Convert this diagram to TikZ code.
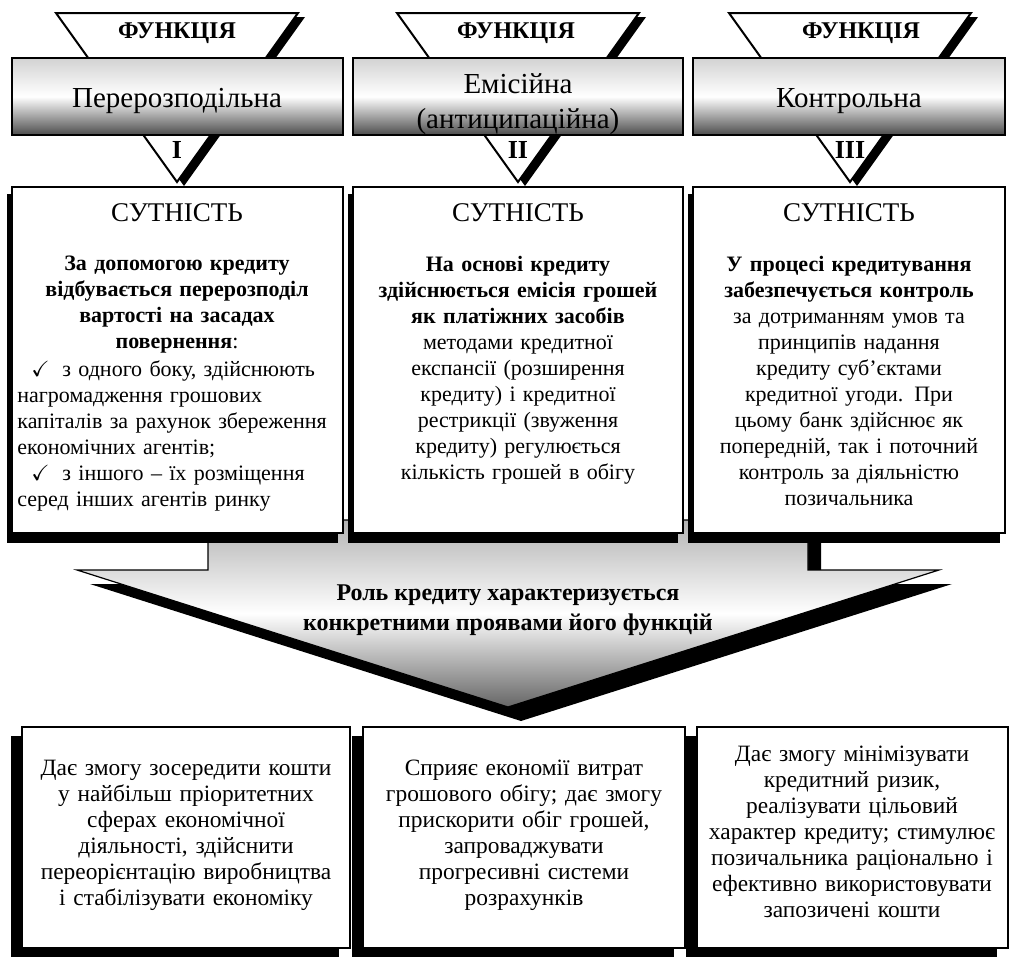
\documentclass[tikz,border=0pt]{standalone}
\usepackage{amssymb}
\usepackage{fontspec}
\setmainfont{Liberation Serif}
\tikzset{
  func_tri/.style = {fill=white, draw=black, line width=1pt},% трикутник ФУНКЦІЯ
  tri_shadow/.style = {fill=black},% тінь трикутника
  func_box/.style = {draw=black, line width=0.6pt, top color=gray!35,
    bottom color=black!70, middle color=white},% назва функції
  func_label/.style = {inner sep=0pt, font=\bfseries\fontsize{12}{14}\selectfont},
  num_label/.style = {inner sep=0pt, font=\bfseries\fontsize{13}{15}\selectfont},
  name_label/.style = {align=center, inner sep=0pt,
    font=\fontsize{14.5}{17.5}\selectfont},% Перерозподільна ...
  ess_box/.style = {fill=white, draw=black, line width=0.8pt},% сутність
  box_shadow/.style = {fill=black},% тінь прямокутника
  ess_head/.style = {inner sep=0pt, font=\fontsize{13.5}{16}\selectfont},
  ess_text/.style = {anchor=north, align=center, inner sep=0pt, text width=162pt,
    font=\fontsize{11}{13}\selectfont},
  ess_list/.style = {anchor=north west, align=left, inner sep=0pt, text width=162pt,
    font=\fontsize{11}{13}\selectfont},
  role_arrow/.style = {draw=black, line width=0.6pt, top color=gray!60,
    bottom color=black!60, middle color=white},% велика стрілка
  role_label/.style = {align=center, inner sep=0pt, font=\bfseries\fontsize{12}{15}\selectfont},
  out_box/.style = {fill=white, draw=black, line width=1pt},% прояви функцій
  out_text/.style = {align=center, inner sep=0pt, text width=165pt,
    font=\fontsize{11.7}{13}\selectfont}
}
\newcommand{\tick}{\hspace*{7pt}\makebox[15.5pt][l]{\smash{$\checkmark$}}}
\begin{document}
\begin{tikzpicture}[x=0.5pt, y=-0.5pt]
  \useasboundingbox[fill=white] (0,0) rectangle (1014,959);
  % трикутники
  \fill[tri_shadow] (63,17) -- (305,17) -- (184,186) -- cycle;
  \draw[func_tri] (56,13) -- (298,13) -- (177,182) -- cycle;
  \fill[tri_shadow] (404,17) -- (646,17) -- (525,186) -- cycle;
  \draw[func_tri] (397,13) -- (639,13) -- (518,182) -- cycle;
  \fill[tri_shadow] (736,17) -- (978,17) -- (857,186) -- cycle;
  \draw[func_tri] (729,13) -- (971,13) -- (850,182) -- cycle;
  \node[func_label] (fun_a) at (177,33) {ФУНКЦІЯ};
  \node[func_label] (fun_b) at (516,33) {ФУНКЦІЯ};
  \node[func_label] (fun_c) at (861,33) {ФУНКЦІЯ};
  \node[num_label] (num_a) at (177,150) {I};
  \node[num_label] (num_b) at (518,150) {II};
  \node[num_label] (num_c) at (850,150) {III};
  % назви функцій
  \draw[func_box] (12,58) rectangle (343,135);
  \draw[func_box] (353,58) rectangle (683,135);
  \draw[func_box] (693,58) rectangle (1005,135);
  \node[name_label] (name_a) at (177,101) {Перерозподільна};
  \node[name_label] (name_b) at (518,104) {Емісійна\\(антиципаційна)};
  \node[name_label] (name_c) at (849,101) {Контрольна};
  % стрілка ролі кредиту
  \fill[black] (221,534) -- (821,534) -- (821,584) -- (952,584) -- (521,721)
    -- (90,584) -- (221,584) -- cycle;
  \draw[role_arrow] (208,520) -- (808,520) -- (808,570) -- (939,570) -- (508,707)
    -- (77,570) -- (208,570) -- cycle;
  \node[role_label] (role) at (508,610) {Роль кредиту характеризується\\
    конкретними проявами його функцій};
  % сутність
  \fill[box_shadow] (7,194) rectangle (338,543);
  \draw[ess_box] (12,187) rectangle (343,533);
  \fill[box_shadow] (348,194) rectangle (678,543);
  \draw[ess_box] (353,187) rectangle (683,533);
  \fill[box_shadow] (688,194) rectangle (1000,543);
  \draw[ess_box] (693,187) rectangle (1005,533);
  \node[ess_head] (head_a) at (177,213) {СУТНІСТЬ};
  \node[ess_head] (head_b) at (518,213) {СУТНІСТЬ};
  \node[ess_head] (head_c) at (849,213) {СУТНІСТЬ};
  \node[ess_text] (ess_a) at (177,256) {\textbf{За допомогою кредиту\\
    відбувається перерозподіл\\ вартості на засадах\\ повернення}:};
  \node[ess_list] (list_a) at (17,360) {%
    \tick з одного боку, здійснюють\\
    нагромадження грошових\\
    капіталів за рахунок збереження\\
    економічних агентів;\\
    \tick з іншого – їх розміщення\\
    серед інших агентів ринку};
  \node[ess_text] (ess_b) at (518,256) {\textbf{На основі кредиту\\
    здійснюється емісія грошей\\ як платіжних засобів}\\
    методами кредитної\\ експансії (розширення\\ кредиту) і кредитної\\
    рестрикції (звуження\\ кредиту) регулюється\\ кількість грошей в обігу};
  \node[ess_text] (ess_c) at (849,256) {\textbf{У процесі кредитування\\
    забезпечується контроль}\\ за дотриманням умов та\\ принципів надання\\
    кредиту суб’єктами\\ кредитної угоди. При\\ цьому банк здійснює як\\
    попередній, так і поточний\\ контроль за діяльністю\\ позичальника};
  % прояви функцій
  \fill[box_shadow] (11,736) rectangle (339,957);
  \draw[out_box] (22,727) rectangle (350,948);
  \fill[box_shadow] (352,736) rectangle (674,957);
  \draw[out_box] (363,727) rectangle (685,948);
  \fill[box_shadow] (686,736) rectangle (997,957);
  \draw[out_box] (697,727) rectangle (1008,948);
  \node[out_text] (out_a) at (186,835) {Дає змогу зосередити кошти\\
    у найбільш пріоритетних\\ сферах економічної\\ діяльності, здійснити\\
    переорієнтацію виробництва\\ і стабілізувати економіку};
  \node[out_text] (out_b) at (524,835) {Сприяє економії витрат\\
    грошового обігу; дає змогу\\ прискорити обіг грошей,\\ запроваджувати\\
    прогресивні системи\\ розрахунків};
  \node[out_text] (out_c) at (852,832) {Дає змогу мінімізувати\\
    кредитний ризик,\\ реалізувати цільовий\\ характер кредиту; стимулює\\
    позичальника раціонально і\\ ефективно використовувати\\ запозичені кошти};
\end{tikzpicture}
\end{document}
